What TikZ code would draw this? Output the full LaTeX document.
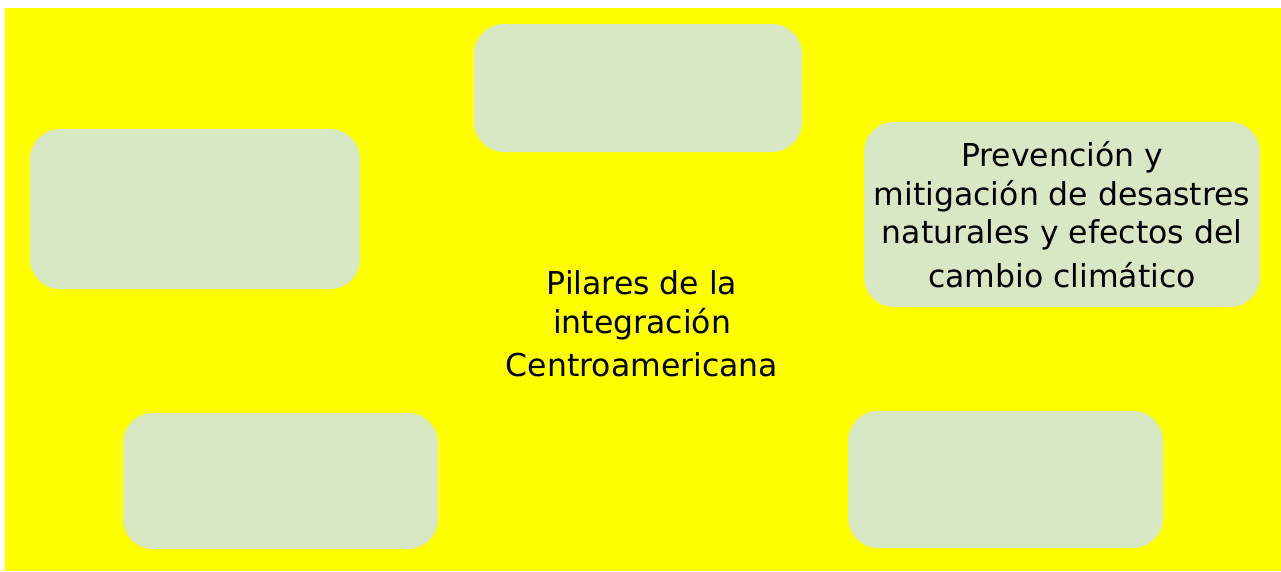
\documentclass[tikz,border=0pt]{standalone}
\usepackage{fontspec}
\setmainfont{DejaVu Sans}
\definecolor{fondo}{RGB}{255,255,0}
\definecolor{verdeclaro}{RGB}{216,231,196}
\tikzset{
  pilar/.style={fill=verdeclaro, rounded corners=30pt, inner sep=0pt},
  texto/.style={align=center, font=\fontsize{31.5}{38.5}\selectfont, inner sep=0pt}
}

\begin{document}
\begin{tikzpicture}[x=1pt, y=-1pt]
        \useasboundingbox (0,0) rectangle (1281,571);

        % --- Fondo amarillo ---
        \fill[fondo] (5,8) rectangle (1281,571);

        % --- Recuadros de los pilares ---
        \node[pilar, minimum width=328, minimum height=128] (arriba) at (638,88) {};
        \node[pilar, minimum width=330, minimum height=160] (izquierda) at (195,209) {};
        \node[pilar, minimum width=396, minimum height=185, texto] (derecha) at (1062,214.5)
            {Prevención y\\mitigación de desastres\\naturales y efectos del\\[5pt]cambio climático};
        \node[pilar, minimum width=315, minimum height=136] (abajoizq) at (280.5,481) {};
        \node[pilar, minimum width=315, minimum height=137] (abajoder) at (1005.5,479.5) {};

        % --- Texto central ---
        \node[texto, font=\fontsize{31.5}{39}\selectfont] (centro) at (642,324)
            {Pilares de la\\[0pt]integración\\[4pt]Centroamericana};
\end{tikzpicture}
\end{document}
